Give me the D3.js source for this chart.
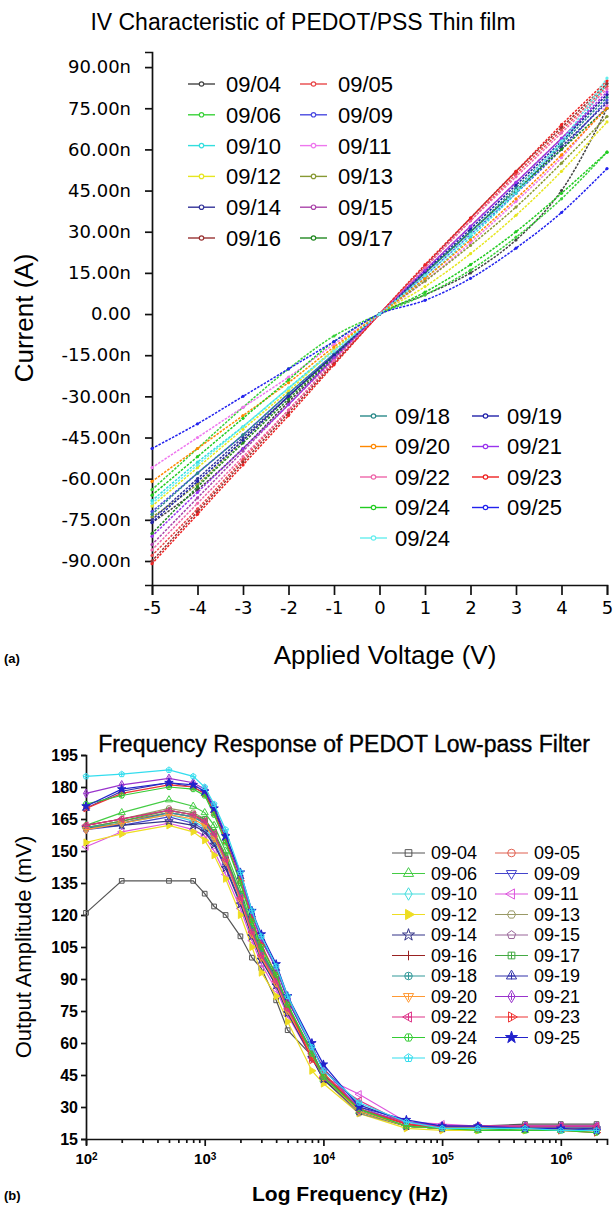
<html>
<head><meta charset="utf-8"></head>
<script src="https://d3js.org/d3.v7.min.js"></script>
<style>
    body { margin: 0; background: #fff; }
    text { font-family: "Liberation Sans", Arial, sans-serif; }
</style>
<svg width=616 height=1213></svg>
<script>

    // ---- (a) IV characteristic data: current in nA at each applied voltage
    let voltage = [-5, -4, -3, -2, -1, 0, 1, 2, 3, 4, 5];
    let ivDates = ['09/04', '09/05', '09/06', '09/09', '09/10', '09/11', '09/12', '09/13', '09/14', '09/15', '09/16',
                   '09/17', '09/18', '09/19', '09/20', '09/21', '09/22', '09/23', '09/24', '09/25', '09/24'];
    let ivCurrent = [
        [-76, -64, -49, -32, -16, 0, 7, 15, 27, 45, 75],
        [-88, -71, -53, -35, -17.5, 0, 17, 34, 51, 67, 83],
        [-64, -49, -34, -20, -8, 0, 7, 16, 28, 42, 59],
        [-72, -58, -44, -29, -14.5, 0, 14, 29, 44, 60, 78],
        [-68, -54, -41, -27, -13, 0, 13, 28, 44, 62, 84],
        [-56, -45, -34, -23, -11, 0, 12, 26, 41, 57, 76],
        [-70, -56, -42, -28, -13, 0, 10, 22, 36, 52, 70],
        [-74, -62, -46, -30, -15, 0, 12, 25, 39, 55, 72],
        [-75, -60, -45, -30, -15, 0, 15, 30, 45, 61, 77],
        [-84, -67, -50, -33, -16.5, 0, 16, 32, 48, 64, 80],
        [-90, -72, -54, -36, -18, 0, 17.5, 35, 52, 68, 84],
        [-80, -63, -47, -31, -15.5, 0, 15, 30, 45, 60, 75],
        [-73, -58, -44, -29, -14.5, 0, 15, 30, 46, 62, 79],
        [-76, -61, -46, -30, -15, 0, 15.5, 31, 47, 63, 80],
        [-61, -49, -37, -25, -12, 0, 13, 27, 42, 58, 75],
        [-81, -65, -49, -33, -16, 0, 16, 32, 48, 64, 81],
        [-86, -69, -52, -35, -17, 0, 17, 34, 50, 66, 82],
        [-91, -73, -55, -37, -18.5, 0, 18, 35, 52, 69, 85],
        [-66, -52, -38, -24, -10, 0, 8, 18, 30, 44, 59],
        [-49, -40, -30, -20, -10, 0, 5, 13, 24, 37, 53],
        [-69, -55, -41, -27, -13.5, 0, 14, 29, 45, 63, 86]
    ];
    let ivTicks = [-90, -75, -60, -45, -30, -15, 0, 15, 30, 45, 60, 75, 90];

    // ---- (b) frequency response data: output amplitude in mV
    let freq = [100, 200, 500, 800, 1000, 1200, 1500, 2000, 2500, 3000, 4000, 5000, 8000, 10000,
                20000, 50000, 100000, 200000, 500000, 1000000, 2000000];
    let frDates = ['09-04', '09-05', '09-06', '09-09', '09-10', '09-11', '09-12', '09-13', '09-14', '09-15', '09-16',
                   '09-17', '09-18', '09-19', '09-20', '09-21', '09-22', '09-23', '09-24', '09-25', '09-26'];
    let frAmp = [
        [121, 136, 136, 136, 130, 124, 120, 110, 100, 95, 80, 66, 54, 44, 28, 21, 21, 21, 22, 22, 22],
        [161, 164, 168, 166, 164, 158, 146, 128, 112, 100, 88, 75, 54, 44, 28, 21, 20, 20, 20, 20, 19],
        [162, 168, 174, 171, 168, 162, 150, 132, 115, 104, 90, 76, 54, 43, 28, 21, 20, 19, 19, 19, 19],
        [160, 162, 166, 163, 160, 154, 143, 126, 110, 99, 87, 74, 53, 43, 28, 21, 20, 20, 20, 20, 19],
        [161, 163, 167, 164, 161, 155, 145, 128, 112, 101, 89, 76, 55, 44, 29, 21, 20, 20, 20, 20, 20],
        [152, 159, 163, 160, 157, 150, 139, 123, 108, 97, 85, 73, 53, 44, 36, 23, 22, 21, 21, 21, 21],
        [154, 158, 162, 159, 155, 148, 137, 120, 105, 93, 82, 70, 47, 41, 27, 20, 19, 19, 19, 19, 19],
        [162, 165, 170, 168, 165, 158, 146, 128, 112, 100, 88, 75, 54, 43, 27, 21, 20, 20, 20, 20, 20],
        [161, 162, 164, 162, 159, 153, 142, 125, 110, 99, 87, 74, 53, 43, 28, 21, 20, 20, 20, 20, 20],
        [160, 163, 168, 166, 163, 157, 145, 128, 112, 101, 89, 76, 55, 45, 30, 22, 21, 21, 21, 21, 21],
        [162, 165, 169, 167, 164, 158, 147, 129, 113, 102, 90, 77, 56, 45, 29, 22, 20, 20, 20, 20, 20],
        [161, 164, 169, 167, 165, 159, 148, 130, 114, 103, 91, 78, 56, 45, 28, 21, 20, 20, 19, 19, 19],
        [161, 163, 168, 166, 163, 157, 146, 129, 113, 102, 90, 77, 55, 44, 28, 21, 20, 20, 20, 20, 20],
        [170, 178, 182, 180, 177, 169, 156, 138, 120, 109, 95, 80, 58, 48, 31, 23, 21, 21, 20, 20, 20],
        [160, 163, 167, 165, 162, 156, 145, 127, 111, 100, 88, 75, 54, 44, 28, 21, 20, 20, 20, 20, 19],
        [177, 181, 184, 182, 179, 171, 158, 138, 120, 108, 95, 81, 58, 48, 29, 23, 21, 21, 21, 21, 21],
        [162, 165, 169, 167, 164, 158, 146, 128, 112, 101, 89, 76, 55, 44, 33, 22, 21, 21, 21, 21, 21],
        [170, 177, 181, 180, 177, 168, 155, 136, 118, 106, 92, 78, 52, 46, 29, 22, 20, 20, 20, 19, 18],
        [172, 176, 180, 179, 176, 167, 154, 135, 117, 105, 92, 78, 55, 44, 29, 21, 20, 19, 19, 19, 18],
        [171, 179, 182, 181, 178, 170, 157, 140, 122, 111, 97, 82, 60, 50, 30, 24, 21, 21, 20, 20, 19],
        [185, 186, 188, 185, 180, 172, 160, 140, 122, 110, 96, 82, 58, 47, 32, 23, 20, 20, 20, 19, 19]
    ];
    let ampTicks = [15, 30, 45, 60, 75, 90, 105, 120, 135, 150, 165, 180, 195];
    let decades = [100, 1000, 10000, 100000, 1000000];

    // styles
    let ivColors = ['#444', '#e8484a', '#3ad23a', '#4a4ae0', '#33dede', '#ee77ee', '#e6e620', '#889933', '#333399',
                    '#aa44aa', '#993333', '#228822', '#2a8a8a', '#2222aa', '#ff8800', '#9933ee', '#ee66aa', '#ee2222',
                    '#22cc22', '#2222ee', '#66eeee'];
    let frColors = ['#555', '#e06050', '#44cc44', '#4444cc', '#44dddd', '#dd55dd', '#eedd22', '#999966', '#333388',
                    '#996699', '#992222', '#44aa44', '#339999', '#3333aa', '#ff9933', '#9933cc', '#dd3388', '#ee3333',
                    '#33cc33', '#2222cc', '#33ddee'];

    let svg = d3.select('svg');

    // ================= (a) =================
    let xa = d3.scaleLinear().domain([-5, 5]).range([152, 607]);
    let ya = d3.scaleLinear().domain([-98.75, 95.5]).range([585, 52]);

    svg.append('text').attr('x', 303).attr('y', 30).attr('text-anchor', 'middle')
        .style('font-size', '23px').text('IV Characteristic of PEDOT/PSS Thin film');

    let axA = svg.append('g').attr('transform', 'translate(0,585)')
        .call(d3.axisBottom(xa).ticks(10).tickSizeOuter(0).tickSize(10).tickPadding(6).tickFormat(d => String(d)));
    axA.selectAll('text').style('font-size', '18px').style('font-family', '"DejaVu Sans", sans-serif');
    let ayA = svg.append('g').attr('transform', 'translate(152,0)')
        .call(d3.axisLeft(ya).tickValues(ivTicks).tickSizeOuter(0).tickSize(7).tickPadding(14)
            .tickFormat(d => d === 0 ? '0.00' : d.toFixed(2) + 'n'));
    ayA.selectAll('text').style('font-size', '18px').style('font-family', '"DejaVu Sans", sans-serif');
    [axA, ayA].forEach(g => g.selectAll('path, line').attr('stroke', '#111').attr('stroke-width', 1.7));

    svg.append('text').attr('transform', 'translate(33,318) rotate(-90)').attr('text-anchor', 'middle')
        .style('font-size', '26px').text('Current (A)');
    svg.append('text').attr('x', 385).attr('y', 664).attr('text-anchor', 'middle')
        .style('font-size', '26px').text('Applied Voltage (V)');
    svg.append('text').attr('x', 4).attr('y', 663).style('font-size', '13px').style('font-weight', 'bold').text('(a)');

    let lineA = d3.line().x((d, i) => xa(voltage[i])).y(d => ya(d)).curve(d3.curveCatmullRom);
    let gA = svg.append('g');
    ivCurrent.forEach((s, k) => {
        gA.append('path').attr('d', lineA(s)).attr('fill', 'none')
            .attr('stroke', ivColors[k]).attr('stroke-width', 1.5).attr('stroke-dasharray', '2.5,1.3');
        gA.selectAll(null).data(s).enter().append('circle')
            .attr('cx', (d, i) => xa(voltage[i])).attr('cy', d => ya(d)).attr('r', 1.6)
            .attr('fill', ivColors[k]);
    });

    // legends (a)
    function ivLegend(idx, x0, y0, colW, rowH, symW, textX) {
        let g = svg.append('g');
        idx.forEach((k, j) => {
            let col = j % 2, row = Math.floor(j / 2);
            let x = x0 + col * colW, y = y0 + row * rowH;
            g.append('line').attr('x1', x).attr('x2', x + symW).attr('y1', y).attr('y2', y)
                .attr('stroke', ivColors[k]).attr('stroke-width', 1.4);
            g.append('circle').attr('cx', x + symW / 2).attr('cy', y).attr('r', 2.2)
                .attr('fill', '#fff').attr('stroke', ivColors[k]).attr('stroke-width', 1.2);
            g.append('text').attr('x', x + textX).attr('y', y).attr('dy', '0.36em')
                .style('font-size', '22px').text(ivDates[k]);
        });
    }
    ivLegend(d3.range(0, 12), 188, 84, 112, 30.8, 27, 38);
    ivLegend(d3.range(12, 21), 360, 416, 112, 30.5, 27, 35);

    // ================= (b) =================
    let xb = d3.scaleLog().domain([100, 2.45e6]).range([86, 607]);
    let yb = d3.scaleLinear().domain([15, 195]).range([1139, 755]);

    svg.append('text').attr('x', 344).attr('y', 752).attr('text-anchor', 'middle')
        .style('font-size', '23px').style('stroke', '#000').style('stroke-width', 0.35)
        .text('Frequency Response of PEDOT Low-pass Filter');

    let minor = [];
    decades.forEach(d => d3.range(1, 10).forEach(m => { if (d * m <= 2.45e6) minor.push(d * m); }));
    let axB = svg.append('g').attr('transform', 'translate(0,1139)')
        .call(d3.axisBottom(xb).tickValues(minor).tickSizeOuter(0).tickSize(6).tickFormat(''));
    axB.selectAll('.tick line').attr('y2', d => decades.includes(d) ? 7 : 4);
    axB.selectAll('.tick').filter(d => decades.includes(d)).append('text')
        .attr('y', 25).attr('text-anchor', 'middle').attr('fill', '#000')
        .style('font-size', '15px').style('font-weight', 'bold')
        .each(function(d) {
            let t = d3.select(this);
            t.append('tspan').text('10');
            t.append('tspan').attr('dy', '-0.45em').style('font-size', '10px').text(Math.round(Math.log10(d)));
        });
    let ayB = svg.append('g').attr('transform', 'translate(86,0)')
        .call(d3.axisLeft(yb).tickValues(ampTicks).tickSizeOuter(0).tickSize(5).tickPadding(3));
    ayB.selectAll('text').style('font-size', '16px').style('font-weight', 'bold')
        .style('font-family', '"Liberation Sans Narrow", "Liberation Sans", Arial');
    [axB, ayB].forEach(g => g.selectAll('path, line').attr('stroke', '#111').attr('stroke-width', 1.7));

    svg.append('text').attr('transform', 'translate(31,947) rotate(-90)').attr('text-anchor', 'middle')
        .style('font-size', '22px').text('Output Amplitude (mV)');
    svg.append('text').attr('x', 350).attr('y', 1201).attr('text-anchor', 'middle')
        .style('font-size', '21px').style('font-weight', 'bold').text('Log Frequency (Hz)');
    svg.append('text').attr('x', 4).attr('y', 1200).style('font-size', '13px').style('font-weight', 'bold').text('(b)');

    // marker shapes
    function polygon(n, rot) {
        return { draw(ctx, size) {
            let r = Math.sqrt(size / (n * Math.sin(2 * Math.PI / n) / 2));
            for (let i = 0; i < n; i++) {
                let a = rot + i * 2 * Math.PI / n;
                if (i) ctx.lineTo(r * Math.sin(a), -r * Math.cos(a)); else ctx.moveTo(r * Math.sin(a), -r * Math.cos(a));
            }
            ctx.closePath();
        } };
    }
    let plusOnly = { draw(ctx, size) { let r = Math.sqrt(size) / 1.4; ctx.moveTo(-r, 0); ctx.lineTo(r, 0); ctx.moveTo(0, -r); ctx.lineTo(0, r); } };
    let shapes = [d3.symbolSquare, d3.symbolCircle, polygon(3, 0), polygon(3, Math.PI), d3.symbolDiamond,
                  polygon(3, -Math.PI / 2), polygon(3, Math.PI / 2), polygon(6, Math.PI / 6), d3.symbolStar,
                  polygon(5, 0), plusOnly, d3.symbolSquare, d3.symbolCircle, polygon(3, 0), polygon(3, Math.PI),
                  d3.symbolDiamond, polygon(3, -Math.PI / 2), polygon(3, Math.PI / 2), polygon(6, Math.PI / 6),
                  d3.symbolStar, polygon(5, 0)];

    function drawMarker(g, k, x, y, size) {
        let col = frColors[k];
        g.append('path').attr('transform', 'translate(' + x + ',' + y + ')')
            .attr('d', d3.symbol().type(shapes[k]).size(size)())
            .attr('fill', k === 19 ? col : (k === 6 ? col : 'none'))
            .attr('stroke', col).attr('stroke-width', 1);
        if (k >= 11 && k !== 19) {
            let r = Math.sqrt(size) / 2;
            g.append('path').attr('transform', 'translate(' + x + ',' + y + ')')
                .attr('d', 'M' + (-r) + ',0H' + r + 'M0,' + (-r) + 'V' + r)
                .attr('stroke', col).attr('stroke-width', 1);
        }
    }

    let lineB = d3.line().x((d, i) => xb(freq[i])).y(d => yb(d));
    let gB = svg.append('g');
    frAmp.forEach((s, k) => {
        gB.append('path').attr('d', lineB(s)).attr('fill', 'none')
            .attr('stroke', frColors[k]).attr('stroke-width', 1.2);
        s.forEach((d, i) => drawMarker(gB, k, xb(freq[i]), yb(d), 22));
    });

    // legend (b)
    let gL = svg.append('g');
    frDates.forEach((name, k) => {
        let col = k < 20 ? k % 2 : 0, row = Math.floor(k / 2);
        let x = 392 + col * 103, y = 853 + row * 20.5;
        gL.append('line').attr('x1', x).attr('x2', x + 33).attr('y1', y).attr('y2', y)
            .attr('stroke', frColors[k]).attr('stroke-width', 1.2);
        drawMarker(gL, k, x + 16.5, y, 45);
        gL.append('text').attr('x', x + 39).attr('y', y).attr('dy', '0.36em')
            .style('font-size', '18px').style('font-family', '"Liberation Sans Narrow", "Liberation Sans", Arial')
            .text(name);
    });

</script>
</html>
